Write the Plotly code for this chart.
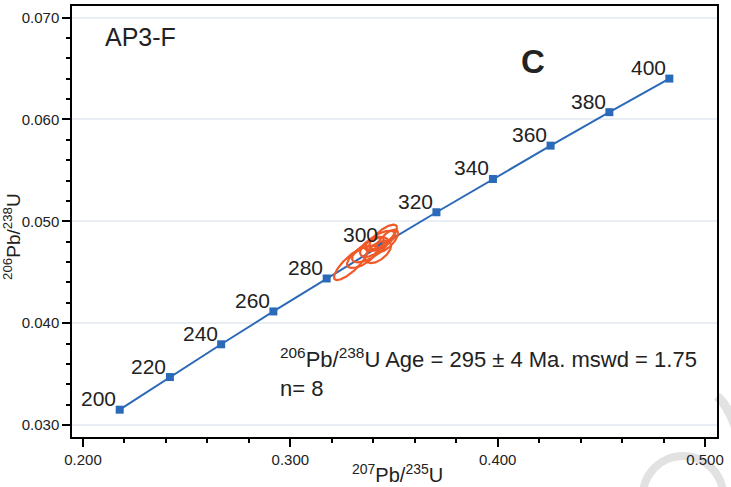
import numpy as np
import plotly.graph_objects as go

# Concordia reference points (age in Ma, 207Pb/235U, 206Pb/238U)
ages = [200, 220, 240, 260, 280, 300, 320, 340, 360, 380, 400]
x_207_235 = [0.21771, 0.24193, 0.26664, 0.29183, 0.31753, 0.34374,
             0.37047, 0.39773, 0.42553, 0.45389, 0.48281]
y_206_238 = [0.031511, 0.034716, 0.037932, 0.041157, 0.044392, 0.047637,
             0.050892, 0.054158, 0.057433, 0.060719, 0.064015]

# Analysis error ellipses: centre x, centre y, sigma x, sigma y, rho
ell_cx = [0.32928, 0.33845, 0.34472, 0.34327, 0.34231, 0.33459, 0.33941, 0.34665]
ell_cy = [0.045833, 0.047201, 0.048471, 0.048081, 0.047006, 0.046517, 0.047494, 0.048081]
ell_sx = [0.00820, 0.00868, 0.00675, 0.00724, 0.00627, 0.00724, 0.00579, 0.00531]
ell_sy = [0.00160, 0.00122, 0.00120, 0.00100, 0.00110, 0.00110, 0.00100, 0.00110]
ell_rho = [0.82, 0.70, 0.75, 0.65, 0.55, 0.65, 0.55, 0.70]

x_ticks = [0.2, 0.3, 0.4, 0.5]
y_ticks = [0.03, 0.04, 0.05, 0.06, 0.07]

FONT = "Arial, 'Liberation Sans', sans-serif"
BLUE = "#2a6ab8"
RED = "#f05a28"

fig = go.Figure()

fig.add_trace(go.Scatter(
    x=x_207_235, y=y_206_238, mode="lines+markers",
    line=dict(color=BLUE, width=2),
    marker=dict(symbol="square", size=8, color=BLUE),
    hoverinfo="skip", showlegend=False))

t = np.linspace(0, 2 * np.pi, 120)
for cx, cy, sx, sy, r in zip(ell_cx, ell_cy, ell_sx, ell_sy, ell_rho):
    ex = cx + sx * np.cos(t)
    ey = cy + sy * (r * np.cos(t) + np.sqrt(1 - r * r) * np.sin(t))
    fig.add_trace(go.Scatter(x=ex, y=ey, mode="lines",
                             line=dict(color=RED, width=2.2),
                             hoverinfo="skip", showlegend=False))

# age labels beside concordia markers
for a, xv, yv in zip(ages, x_207_235, y_206_238):
    fig.add_annotation(x=xv, y=yv, xref="x", yref="y", text=str(a),
                       showarrow=False, xanchor="center", yanchor="middle",
                       xshift=-21, yshift=11,
                       font=dict(family=FONT, size=21, color="#222222"))

L, R, T, B = 72, 14, 4, 50
W, H = 731, 487
pw, ph = W - L - R, H - T - B

def px(xp):
    return (xp - L) / pw

def py(yp):
    return (H - B - yp) / ph

annots = [
    dict(text="AP3-F", x=px(140), y=py(35), font=dict(size=25)),
    dict(text="<b>C</b>", x=px(533), y=py(60), font=dict(size=33)),
    dict(text="<sup>206</sup>Pb/<sup>238</sup>U Age = 295 ± 4 Ma. mswd = 1.75<br>n= 8",
         x=px(278), y=py(372), xanchor="left", align="left", font=dict(size=22)),
    dict(text="<sup>207</sup>Pb/<sup>235</sup>U", x=px(397), y=py(474), font=dict(size=20)),
    dict(text="<sup>206</sup>Pb/<sup>238</sup>U", x=px(12), y=py(236), textangle=-90,
         font=dict(size=19)),
]
for a in annots:
    a.setdefault("xanchor", "center")
    a["yanchor"] = "middle"
    a["xref"] = "paper"
    a["yref"] = "paper"
    a["showarrow"] = False
    a["font"].update(family=FONT, color="#222222")
    fig.add_annotation(**a)

# faint watermark arcs outside the plot frame
fig.add_shape(type="circle", xref="paper", yref="paper",
              x0=px(643), x1=px(723), y0=py(536), y1=py(456),
              line=dict(color="#e2e2e2", width=8), layer="below")
fig.add_shape(type="path", xref="paper", yref="paper",
              path=f"M {px(717)},{py(396)} Q {px(727)},{py(404)} {px(735)},{py(426)}",
              line=dict(color="#e2e2e2", width=9), layer="below")

axis_common = dict(showline=True, linecolor="black", linewidth=1.5, mirror=True,
                   ticks="outside", ticklen=8, tickwidth=1.5, tickcolor="black",
                   tickformat=".3f", zeroline=False,
                   tickfont=dict(family=FONT, size=15, color="#222222"))

fig.update_xaxes(range=[0.1947, 0.5058], tickvals=x_ticks, showgrid=False,
                 minor=dict(dtick=0.02, tick0=0.2, ticks="outside", ticklen=4,
                            tickwidth=1.5, tickcolor="black", showgrid=False),
                 **axis_common)
fig.update_yaxes(range=[0.02883, 0.07114], tickvals=y_ticks, showgrid=True,
                 gridcolor="#e9eef4", gridwidth=2,
                 minor=dict(dtick=0.002, tick0=0.03, ticks="outside", ticklen=4,
                            tickwidth=1.5, tickcolor="black", showgrid=False),
                 **axis_common)

fig.update_layout(width=W, height=H, margin=dict(l=L, r=R, t=T, b=B),
                  paper_bgcolor="white", plot_bgcolor="white",
                  font=dict(family=FONT))

fig.write_html("out.html")
